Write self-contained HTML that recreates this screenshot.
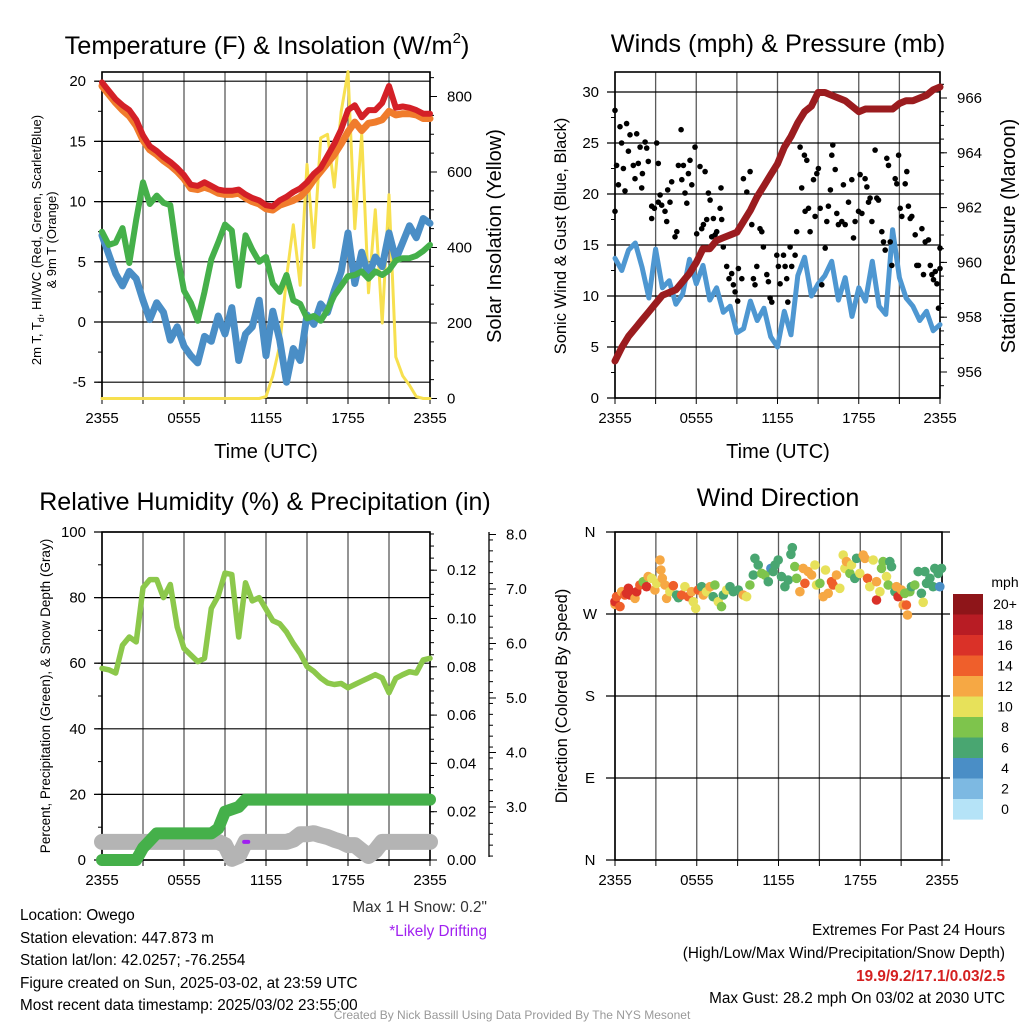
<!DOCTYPE html>
<html><head><meta charset="utf-8"><title>Owego Mesonet Meteogram</title>
<style>
html,body{margin:0;padding:0;background:#fff;}
svg{display:block;font-family:"Liberation Sans",Arial,sans-serif;}
</style></head>
<body>
<svg id="chart" width="1024" height="1024" viewBox="0 0 1024 1024" xmlns="http://www.w3.org/2000/svg">
<rect x="0" y="0" width="1024" height="1024" fill="#fff"/>
<g id="texts" font-family="Liberation Sans, Arial, sans-serif" fill="#000">
<text x="267" y="54" font-size="25.3" text-anchor="middle">Temperature (F) &amp; Insolation (W/m<tspan font-size="15" dy="-11">2</tspan><tspan dy="11">)</tspan></text>
<text x="778" y="52" font-size="25.3" text-anchor="middle">Winds (mph) &amp; Pressure (mb)</text>
<text x="265" y="510" font-size="25" text-anchor="middle">Relative Humidity (%) &amp; Precipitation (in)</text>
<text x="778" y="506" font-size="25" text-anchor="middle">Wind Direction</text>
<text x="266" y="458" font-size="20" text-anchor="middle">Time (UTC)</text>
<text x="778" y="458" font-size="20" text-anchor="middle">Time (UTC)</text>
<text transform="translate(41,240) rotate(-90)" font-size="13" text-anchor="middle">2m T, T<tspan font-size="9" dy="3">d</tspan><tspan dy="-3">, HI/WC (Red, Green, Scarlet/Blue)</tspan></text>
<text transform="translate(56,240) rotate(-90)" font-size="13" text-anchor="middle">&amp; 9m T (Orange)</text>
<text transform="translate(501,236) rotate(-90)" font-size="20" text-anchor="middle">Solar Insolation (Yellow)</text>
<text transform="translate(566,236) rotate(-90)" font-size="16.5" text-anchor="middle">Sonic Wind &amp; Gust (Blue, Black)</text>
<text transform="translate(1015,236) rotate(-90)" font-size="20" text-anchor="middle">Station Pressure (Maroon)</text>
<text transform="translate(50,696) rotate(-90)" font-size="13.5" text-anchor="middle">Percent, Precipitation (Green), &amp; Snow Depth (Gray)</text>
<text transform="translate(567,696) rotate(-90)" font-size="16.5" text-anchor="middle">Direction (Colored By Speed)</text>
<text x="1005" y="587" font-size="14" text-anchor="middle">mph</text>
<text x="487" y="912" font-size="15.3" text-anchor="end" fill="#333">Max 1 H Snow: 0.2"</text>
<text x="487" y="936" font-size="15.3" text-anchor="end" fill="#a020f0">*Likely Drifting</text>
<text x="20" y="920" font-size="15.3">Location: Owego</text>
<text x="20" y="943" font-size="15.3">Station elevation: 447.873 m</text>
<text x="20" y="965" font-size="15.3">Station lat/lon: 42.0257; -76.2554</text>
<text x="20" y="988" font-size="15.3">Figure created on Sun, 2025-03-02, at 23:59 UTC</text>
<text x="20" y="1010" font-size="15.3">Most recent data timestamp: 2025/03/02 23:55:00</text>
<text x="1005" y="935" font-size="15.3" text-anchor="end">Extremes For Past 24 Hours</text>
<text x="1005" y="958" font-size="15.3" text-anchor="end">(High/Low/Max Wind/Precipitation/Snow Depth)</text>
<text x="1005" y="981" font-size="15.3" font-weight="bold" text-anchor="end" fill="#d42020">19.9/9.2/17.1/0.03/2.5</text>
<text x="1005" y="1003" font-size="15.3" text-anchor="end">Max Gust: 28.2 mph On 03/02 at 2030 UTC</text>
<text x="512" y="1019" font-size="12" text-anchor="middle" fill="#999">Created By Nick Bassill Using Data Provided By The NYS Mesonet</text>
</g>
</svg>
<script>
// ---------- DATA (30-minute samples, hours 0..24 from 2355 UTC) ----------
const xTickLabels = ["2355","0555","1155","1755","2355"];
const tempRed = [19.9,19.2,18.5,18.0,17.6,16.8,15.5,14.6,14.2,13.7,13.3,12.8,12.2,11.4,11.3,11.6,11.3,11.0,10.9,10.9,11.0,10.6,10.3,10.1,9.7,9.6,10.1,10.4,10.8,11.1,11.6,12.3,12.8,13.8,14.8,16.0,17.6,18.0,17.0,17.6,17.6,18.2,19.6,17.8,17.9,17.8,17.6,17.3,17.3];
const temp9mOrange = [19.6,18.9,18.2,17.6,17.1,16.3,15.1,14.3,13.9,13.4,13.0,12.5,11.9,11.1,11.0,11.2,11.0,10.7,10.6,10.6,10.7,10.3,10.0,9.8,9.4,9.3,9.7,9.9,10.1,10.4,11.0,11.8,12.5,13.2,13.9,14.8,15.8,16.6,15.9,16.5,16.6,16.8,17.5,17.2,17.3,17.3,17.2,16.9,16.9];
const dewGreen = [7.5,6.4,6.6,7.8,4.9,8.5,11.6,9.8,10.5,9.9,9.7,5.6,2.6,1.6,0.1,2.5,5.2,6.6,8.1,7.6,3.0,7.2,6.0,5.0,5.4,3.2,2.5,3.9,1.8,1.5,0.3,0.5,0.1,1.0,2.2,3.0,3.8,3.9,4.2,3.6,4.2,3.9,4.3,5.1,5.3,5.3,5.5,5.9,6.4];
const windChillBlue = [7.2,5.6,4.0,3.0,4.2,3.6,1.8,0.2,1.6,0.8,-1.5,-0.4,-2.0,-2.8,-3.4,-1.2,-1.6,0.5,-1.0,1.2,-3.2,-1.0,-0.4,1.8,-2.8,0.9,-1.5,-5.0,-2.2,-3.2,0.6,-0.2,1.5,0.8,2.6,4.2,7.4,3.2,5.8,3.8,5.4,4.6,7.4,5.2,6.6,8.0,7.0,8.6,8.2];
const solarYellow = [0,0,0,0,0,0,0,0,0,0,0,0,0,0,0,0,0,0,0,0,0,0,0,0,5,60,140,320,460,300,620,400,690,700,560,760,866,450,700,280,500,200,540,110,60,35,5,0,0];
const tempTicks = [-5,0,5,10,15,20];
const solarTicks = [0,200,400,600,800];

const windBlue = [13.7,12.5,14.5,15.2,12.8,9.8,14.6,10.8,11.5,9.2,10.2,13.6,11.2,13.0,9.6,10.8,8.4,9.0,6.4,6.8,9.5,7.6,8.8,6.0,5.0,8.5,6.2,12.0,13.8,10.0,11.2,12.0,13.4,9.6,11.8,8.0,10.8,9.5,13.4,9.0,8.2,16.5,11.8,9.8,9.0,7.6,8.5,6.6,7.2];
const pressureMaroon = [956.4,956.9,957.3,957.6,957.9,958.2,958.5,958.8,958.9,959.0,959.3,959.6,960.0,960.5,960.5,960.8,960.9,961.0,961.1,961.5,961.9,962.4,962.8,963.2,963.6,964.2,964.6,965.1,965.5,965.7,966.2,966.2,966.1,966.0,965.9,965.7,965.5,965.6,965.6,965.6,965.6,965.6,965.8,965.9,965.9,966.0,966.1,966.3,966.4];
const gustHours = [0,0,0.12,0.25,0.37,0.49,0.62,0.74,0.86,0.99,1.11,1.35,1.48,1.6,1.72,1.85,1.97,2.02,2.22,2.34,2.46,2.71,2.71,2.91,3.08,3.2,3.2,3.33,3.45,3.69,3.82,3.89,4.06,4.19,4.43,4.56,4.68,4.88,4.93,5.05,5.17,5.3,5.42,5.54,5.67,5.91,6.03,6.28,6.4,6.53,6.65,6.77,6.9,7.02,7.14,7.27,7.39,7.51,7.76,7.83,7.88,8.0,8.25,8.42,8.62,8.74,8.87,9.06,9.11,9.36,9.48,9.73,9.98,10.1,10.22,10.34,10.47,10.71,10.84,10.96,11.21,11.33,11.45,11.58,11.95,12.07,12.19,12.44,12.56,12.68,12.76,12.93,13.05,13.3,13.42,13.67,13.79,13.99,14.04,14.16,14.29,14.41,14.66,14.78,14.9,15.02,15.15,15.27,15.52,15.64,15.76,15.91,16.01,16.08,16.26,16.38,16.5,16.75,16.87,17.0,17.24,17.49,17.61,17.73,17.98,18.1,18.23,18.47,18.6,18.72,18.84,18.97,19.21,19.33,19.46,19.7,19.83,19.95,20.07,20.2,20.32,20.44,20.69,20.81,20.94,21.06,21.18,21.43,21.55,21.67,21.8,21.92,22.17,22.29,22.41,22.66,22.78,22.91,23.15,23.28,23.4,23.52,23.65,23.77,23.89,24.0,24.0];
const gustValues = [28.2,18.3,22.8,20.9,26.6,25.0,22.5,20.3,26.9,24.2,25.8,22.8,21.5,25.9,23.0,24.6,20.6,22.0,25.1,24.5,23.2,17.6,18.8,18.6,25.0,23.0,19.2,19.9,18.9,18.3,17.3,20.4,19.2,21.2,15.8,16.3,22.8,26.3,21.4,22.8,20.1,19.1,22.0,23.3,20.9,24.6,16.1,22.7,16.6,17.0,22.2,17.5,20.1,19.4,15.8,17.6,16.0,16.3,18.6,20.6,17.5,14.8,12.9,11.7,12.2,11.1,10.4,9.5,12.7,11.7,21.5,20.2,22.2,17.0,11.7,11.1,12.9,16.6,16.3,14.8,12.1,11.4,9.8,9.4,14.0,12.9,11.2,14.0,12.9,11.7,9.4,14.8,12.9,14.0,16.3,24.6,20.6,23.8,18.3,23.3,18.6,16.3,21.4,17.8,22.0,22.5,18.6,11.1,14.7,17.3,18.8,20.4,23.8,24.8,22.4,18.1,17.0,17.3,20.9,17.0,19.2,21.4,15.7,17.3,18.3,21.9,18.1,21.5,20.7,19.2,19.6,17.3,24.3,19.6,19.4,16.3,15.3,14.5,23.5,22.8,15.3,13.0,21.5,21.0,23.8,18.6,17.8,21.0,22.2,18.8,17.6,17.8,16.0,13.0,13.0,16.6,12.1,15.3,15.5,13.0,12.1,11.6,12.4,11.2,8.8,14.7,12.7];
const windTicks = [0,5,10,15,20,25,30];
const pressureTicks = [956,958,960,962,964,966];

const rhGreen = [58.4,58,57,65.5,68,66.5,83,85.5,85.5,80,84,71,64.5,62.5,60.5,61.5,76.7,80.5,87.5,87,68,84.5,79,80,76.5,73,72,69.5,66,63,59,57.5,55.5,54,53.5,53.8,52.5,53.5,54.5,55.5,56.5,55.5,51,55.4,56.5,57.4,57,61,61.5];
const precipGreen = [0,0,0,0,0,0,0.005,0.008,0.011,0.011,0.011,0.011,0.011,0.011,0.011,0.011,0.011,0.013,0.020,0.021,0.022,0.025,0.025,0.025,0.025,0.025,0.025,0.025,0.025,0.025,0.025,0.025,0.025,0.025,0.025,0.025,0.025,0.025,0.025,0.025,0.025,0.025,0.025,0.025,0.025,0.025,0.025,0.025,0.025];
const snowGray = [2.36,2.36,2.36,2.36,2.36,2.36,2.36,2.36,2.36,2.36,2.36,2.36,2.36,2.36,2.36,2.36,2.36,2.36,2.3,2.05,2.1,2.36,2.36,2.36,2.36,2.36,2.36,2.36,2.4,2.5,2.5,2.52,2.48,2.45,2.4,2.36,2.3,2.3,2.2,2.1,2.2,2.36,2.36,2.36,2.36,2.36,2.36,2.36,2.36];
const driftHours = [10.4,10.7];
const driftValues = [2.36,2.36];
const rhTicks = [0,20,40,60,80,100];
const precipTicks = [0.00,0.02,0.04,0.06,0.08,0.10,0.12];
const snowTicks = [3.0,4.0,5.0,6.0,7.0,8.0];

const dirHours = [0,0,0.12,0.37,0.49,0.73,0.86,0.98,1.10,1.34,1.47,1.59,1.83,2.08,2.32,2.44,2.69,2.93,3.06,3.30,3.37,3.47,3.67,3.79,4.03,4.28,4.52,4.65,4.89,5.13,5.38,5.62,5.75,5.92,6.11,6.36,6.48,6.72,6.97,7.21,7.33,7.58,7.82,7.95,8.19,8.44,8.68,9.05,9.41,9.66,9.90,10.15,10.27,10.51,10.76,11.00,11.25,11.44,11.61,11.74,11.98,12.22,12.47,12.71,12.91,13.01,13.20,13.33,13.57,13.81,13.94,14.18,14.43,14.67,14.79,15.04,15.28,15.45,15.65,15.89,16.01,16.26,16.50,16.75,16.87,16.99,17.24,17.36,17.60,17.73,17.97,18.22,18.34,18.53,18.70,18.95,19.19,19.19,19.44,19.56,19.68,19.93,20.05,20.17,20.29,20.54,20.66,20.78,21.03,21.15,21.27,21.39,21.47,21.64,21.76,22.00,22.25,22.49,22.62,22.74,22.86,23.11,23.35,23.47,23.72,23.84,23.96];
const dirDegrees = [280.6,283.5,289.0,278.1,294.5,290.9,292.7,298.2,290.9,292.7,287.2,294.5,301.8,305.5,300.0,311.0,309.2,296.3,303.7,329.3,318.3,309.2,301.8,287.2,294.5,301.1,290.9,287.9,290.9,300.0,289.0,294.5,283.5,276.2,296.3,300.0,290.9,294.5,300.0,289.0,301.8,283.5,278.1,290.9,296.3,300.0,294.5,296.3,290.9,289.0,301.8,312.8,331.1,323.8,314.6,312.8,305.5,320.1,316.5,323.8,329.3,311.0,300.0,307.3,335.5,342.8,322.0,309.2,294.5,320.1,303.7,316.5,312.8,323.8,301.8,303.7,289.0,318.3,292.7,305.5,301.8,312.8,298.2,334.8,320.1,327.5,314.6,323.8,309.2,331.1,314.6,334.8,331.1,309.2,300.0,329.3,305.5,285.4,294.5,320.1,327.5,311.0,301.8,327.5,322.0,294.5,300.0,289.0,296.3,279.9,292.7,279.9,268.9,294.5,300.0,301.8,316.5,292.7,282.8,316.5,303.7,309.2,300.0,320.1,314.6,300.0,320.1];
const dirSpeeds = [13,17,14,15,12,15,17,16,17,17,13,16,14,8,17,13,10,12,10,12,12,12,12,12,10,15,7,6,14,10,15,12,10,10,15,7,12,10,13,7,8,10,8,6,10,6,6,6,12,10,8,6,7,7,8,8,6,4,6,6,6,7,6,6,6,6,8,8,12,12,15,12,12,10,10,8,12,10,12,15,14,12,10,10,10,12,8,10,6,7,10,12,13,15,10,10,12,17,10,8,8,10,8,7,7,7,12,16,12,13,8,15,12,8,7,8,6,6,10,6,7,7,6,6,6,4,6];
const dirTickLabels = ["N","E","S","W","N"];
const dirTickDegrees = [0,90,180,270,360];
const speedBinLabels = ["20+","18","16","14","12","10","8","6","4","2","0"];
const speedBinColors = ["#8e1519","#b81c24","#da3128","#ef5f2b","#f6a844","#e7e15a","#7ec44c","#49a671","#4a8ec6","#7db9e2","#b5e3f7"];

// ---------- DRAWING ----------
const NS = "http://www.w3.org/2000/svg";
const svg = document.getElementById("chart");
const textLayer = document.getElementById("texts");
function mk(tag, parent){ const e=document.createElementNS(NS,tag); (parent||svg).insertBefore(e, parent?null:textLayer); return e; }
function setA(e, o){ for(const k in o) e.setAttribute(k, o[k]); return e; }
function group(){ return mk("g"); }

const P1={x0:102,x1:430,y0:72,y1:398};
const P2={x0:615,x1:940,y0:72,y1:398};
const P3={x0:102,x1:430,y0:532,y1:860};
const P4={x0:615,x1:942,y0:532,y1:860};
function xs(P,h){ return P.x0 + h/24*(P.x1-P.x0); }
const yTemp = v => 322 - v*12.04;
const ySolar = v => 398.5 - v*0.3775;
const yWind = v => 398 - v*10.2;
const yPres = v => 98 + (966-v)*27.4;
const yRH = v => 860 - v*3.28;
const yPrecip = v => 860 - v/0.02*48.3;
const ySnow = v => 807 - (v-3)*54.5;
const yDir = d => 860 - d/360*328;

function gridAndFrame(P, name, hLines, hLeft, hRight){
  const g=group();
  
  
  for(let i=0;i<=8;i++){
    const x=P.x0+i*(P.x1-P.x0)/8;
    const l=mk("line",g); setA(l,{x1:x,x2:x,y1:P.y0,y2:P.y1,stroke:"#5a5a5a","stroke-width":1.3});
    const t=mk("line",g); setA(t,{x1:x,x2:x,y1:P.y1,y2:P.y1+6,stroke:"#000","stroke-width":1});
  }
  hLines.forEach(y=>{ const l=mk("line",g); setA(l,{x1:hLeft,x2:hRight,y1:y,y2:y,stroke:"#000","stroke-width":1.2}); });
  const f=mk("rect",g); setA(f,{x:P.x0,y:P.y0,width:P.x1-P.x0,height:P.y1-P.y0,fill:"none",stroke:"#000","stroke-width":1.6});
  xTickLabels.forEach((s,i)=>{
    const t=mk("text",g); setA(t,{x:P.x0+i*(P.x1-P.x0)/4,y:P.y1+25,"font-size":15,"text-anchor":"middle"}); t.textContent=s;
    
    
  });
}
function yTicks(name, vals, yf, x, side, labels, fmt, minor){
  const g=group();
  
  
  const dir = side==="left"?-1:1;
  if(minor) minor.forEach(v=>{ const y=yf(v); const l=mk("line",g); setA(l,{x1:x,x2:x+dir*4,y1:y,y2:y,stroke:"#000","stroke-width":1}); });
  vals.forEach(v=>{
    const y=yf(v); const l=mk("line",g); setA(l,{x1:x,x2:x+dir*7,y1:y,y2:y,stroke:"#000","stroke-width":1});
    if(labels){ const t=mk("text",g); setA(t,{x:x+dir*(side==="left"?16:17),y:y+5,"font-size":15,"text-anchor":side==="left"?"end":"start"}); t.textContent=fmt?fmt(v):String(v); }
  });
}
function range(a,b,s){ const r=[]; for(let v=a; v<=b+1e-9; v+=s) r.push(+v.toFixed(4)); return r; }
function polyline(P, data, yf, color, width, name, opacity){
  const p=mk("path"); let d="";
  data.forEach((v,i)=>{ const x=xs(P,i*0.5), y=yf(v); d+=(i?"L":"M")+x.toFixed(1)+" "+y.toFixed(1); });
  setA(p,{d:d,fill:"none",stroke:color,"stroke-width":width,"stroke-linejoin":"round","stroke-linecap":"round",opacity:opacity||1});
  
  
  return p;
}

// Panel 1
gridAndFrame(P1,"temperature-panel",tempTicks.map(yTemp),P1.x0-8,P1.x1);
yTicks("temperature-y-axis",tempTicks,yTemp,P1.x0,"left",true,null,range(-5,20,2.5));
yTicks("solar-y-axis",solarTicks,ySolar,P1.x1,"right",true,null,range(0,850,50));
polyline(P1,solarYellow,ySolar,"#f7e04f",3,"solar-insolation-line");
polyline(P1,windChillBlue,yTemp,"#4a8ec6",7,"wind-chill-line");
polyline(P1,dewGreen,yTemp,"#45b04a",6,"dewpoint-line");
polyline(P1,temp9mOrange,yTemp,"#f07c2c",7,"temp-9m-line");
polyline(P1,tempRed,yTemp,"#d42027",6,"temp-2m-line");

// Panel 2
gridAndFrame(P2,"winds-panel",windTicks.map(yWind),P2.x0-8,P2.x1);
yTicks("wind-y-axis",windTicks,yWind,P2.x0,"left",true,null,range(0,30,2.5));
yTicks("pressure-y-axis",pressureTicks,yPres,P2.x1,"right",true,null,range(955,967,0.5).filter(v=>yPres(v)>=P2.y0&&yPres(v)<=P2.y1));
polyline(P2,windBlue,yWind,"#4e97d1",5,"sonic-wind-line");
gustHours.forEach((h,i)=>{
  const c=mk("circle"); setA(c,{cx:xs(P2,h).toFixed(1),cy:yWind(gustValues[i]).toFixed(1),r:2.8,fill:"#000"});
  
  
});
polyline(P2,pressureMaroon,yPres,"#9b1c1f",7,"pressure-line");

// Panel 3
gridAndFrame(P3,"humidity-panel",rhTicks.map(yRH),P3.x0-8,P3.x1);
yTicks("rh-y-axis",rhTicks,yRH,P3.x0,"left",true,null,range(0,100,10));
yTicks("precip-y-axis",precipTicks,yPrecip,P3.x1,"right",true,v=>v.toFixed(2),range(0,0.135,0.005));
(function(){ const l=mk("line"); setA(l,{x1:489,x2:489,y1:532,y2:857,stroke:"#000","stroke-width":1.3});
  
   })();
yTicks("snow-y-axis",snowTicks,ySnow,489,"right",true,v=>v.toFixed(1),range(2.1,8.0,0.2).filter(v=>ySnow(v)>=532&&ySnow(v)<=858));
polyline(P3,snowGray,ySnow,"#b4b4b4",16,"snow-depth-line");
(function(){ const p=mk("path"); setA(p,{d:"M"+xs(P3,driftHours[0])+" "+ySnow(driftValues[0])+"L"+xs(P3,driftHours[1])+" "+ySnow(driftValues[1]),stroke:"#a020f0","stroke-width":4,"stroke-linecap":"round"});
  
   })();
polyline(P3,precipGreen,yPrecip,"#45b04a",12,"precipitation-line");
polyline(P3,rhGreen,yRH,"#8cc84b",5.5,"relative-humidity-line");

// Panel 4
gridAndFrame(P4,"direction-panel",dirTickDegrees.map(yDir),P4.x0-9,P4.x1+8);
dirTickDegrees.forEach((d,i)=>{
  const t=mk("text"); setA(t,{x:590,y:yDir(d)+5,"font-size":15,"text-anchor":"middle"}); t.textContent=dirTickLabels[i];
  
  
});
function speedColor(s){ const idx = Math.min(10, Math.max(0, 10-Math.floor(s/2))); return speedBinColors[idx]; }
dirHours.forEach((h,i)=>{
  const c=mk("circle"); setA(c,{cx:xs(P4,h).toFixed(1),cy:yDir(dirDegrees[i]).toFixed(1),r:4.8,fill:speedColor(dirSpeeds[i])});
  
  
});
// Colorbar
speedBinLabels.forEach((lab,i)=>{
  const y=594+i*20.5;
  const r=mk("rect"); setA(r,{x:953,y:y,width:30,height:20.6,fill:speedBinColors[i]});
  
  
  const t=mk("text"); setA(t,{x:1005,y:y+15,"font-size":14,"text-anchor":"middle"}); t.textContent=lab;
  
  
});
</script>
</body></html>
